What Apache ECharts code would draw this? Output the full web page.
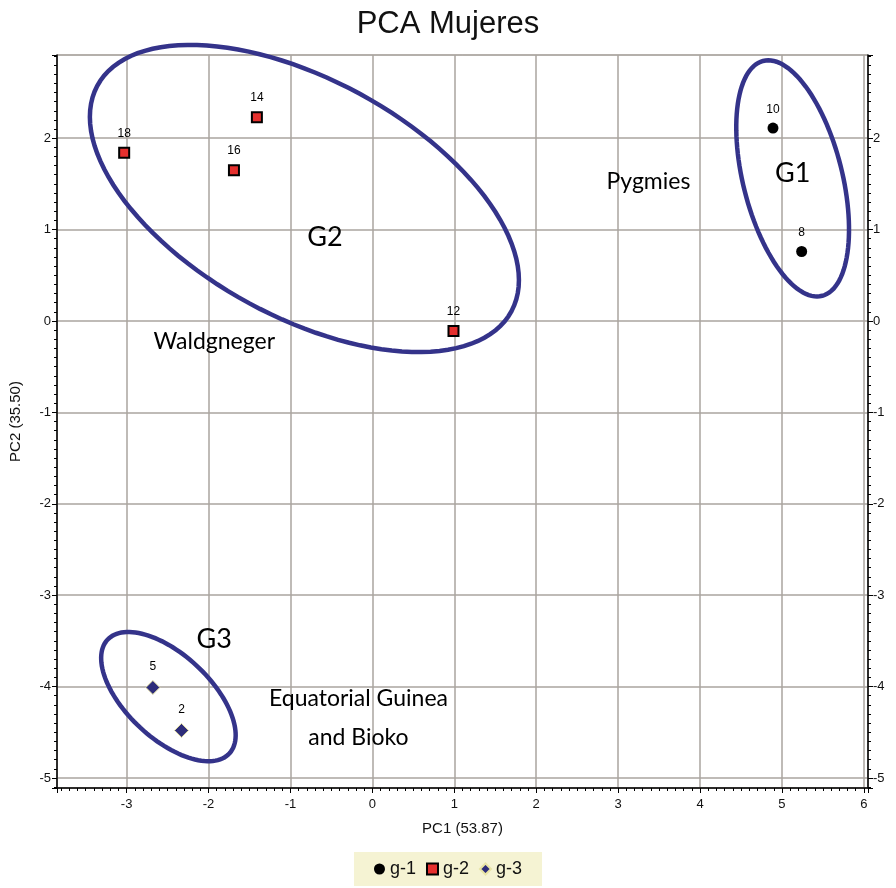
<!DOCTYPE html>
<html>
<head>
<meta charset="utf-8">
<script src="https://cdn.jsdelivr.net/npm/echarts@6/dist/echarts.min.js"></script>
<style>
  html, body { margin: 0; padding: 0; background: #fff; }
  #chart { width: 896px; height: 888px; }
</style>
</head>
<body>
<div id="chart"></div>
<script>
// group g-1 (black circles)
const g1X = [4.89, 5.24];
const g1Y = [2.11, 0.76];
const g1Ids = ['10', '8'];

// group g-2 (red squares)
const g2X = [-3.03, -1.41, -1.69, 0.99];
const g2Y = [1.84, 2.23, 1.65, -0.11];
const g2Ids = ['18', '14', '16', '12'];

// group g-3 (blue diamonds)
const g3X = [-2.68, -2.33];
const g3Y = [-4.01, -4.48];
const g3Ids = ['5', '2'];

// ellipses: centre and two semi-axis vectors, in data units
const ellipseCenters = [[5.13, 1.56], [-0.83, 1.34], [-2.49, -4.11]];
const ellipseMajor = [[0.361, -1.285], [2.53, -1.23], [0.746, -0.620]];
const ellipseMinor = [[0.586, 0.136], [0.676, 1.145], [0.343, 0.340]];

// annotations
const groupNames = ['G1', 'G2', 'G3'];
const groupPos = [[5.13, 1.62], [-0.58, 0.92], [-1.93, -3.48]];
const regionNames = ['Pygmies', 'Waldgneger', 'Equatorial Guinea', 'and Bioko'];
const regionPos = [[3.37, 1.53], [-1.93, -0.23], [-0.17, -4.13], [-0.17, -4.56]];

const xMin = -3.85, xMax = 6.05;
const yMin = -5.11, yMax = 2.91;

const chart = echarts.init(document.getElementById('chart'));

const toPoints = (xs, ys, ids) => xs.map((x, i) => ({ value: [x, ys[i]], name: ids[i] }));

// only integer ticks get a label (edges of the fixed range stay blank)
const intOnly = v => (Math.abs(v - Math.round(v)) < 1e-6 ? String(Math.round(v)) : '');

const pointLabel = {
  show: true,
  position: 'top',
  distance: 7,
  formatter: '{b}',
  color: '#000',
  fontSize: 12,
  fontFamily: 'Liberation Sans, Arial, sans-serif'
};

const yAxisBase = {
  type: 'value',
  min: yMin,
  max: yMax,
  splitNumber: 8,
  axisLine: { show: true, onZero: false, lineStyle: { color: '#000', width: 1.5 } },
  axisTick: { show: true, length: 5, lineStyle: { color: '#000' } },
  minorTick: { show: true, splitNumber: 10, length: 3, lineStyle: { color: '#000' } },
  axisLabel: {
    formatter: intOnly,
    color: '#111',
    fontSize: 13,
    fontFamily: 'Liberation Sans, Arial, sans-serif',
    margin: 6
  }
};

const option = {
  backgroundColor: '#fff',
  animation: false,
  title: {
    text: 'PCA Mujeres',
    left: 'center',
    top: 4,
    textStyle: {
      fontSize: 31,
      fontWeight: 'normal',
      color: '#111',
      fontFamily: 'Liberation Sans, Arial, sans-serif'
    }
  },
  legend: {
    top: 852,
    left: 'center',
    data: ['g-1', 'g-2', 'g-3'],
    backgroundColor: '#f5f3d3',
    padding: [8, 20],
    itemWidth: 11,
    itemHeight: 11,
    itemGap: 10,
    textStyle: { fontSize: 18, color: '#111', fontFamily: 'Liberation Sans, Arial, sans-serif' }
  },
  grid: {
    left: 52,
    right: 28,
    top: 55,
    bottom: 100,
    show: true,
    borderColor: '#aaa49f',
    borderWidth: 1
  },
  xAxis: {
    type: 'value',
    min: xMin,
    max: xMax,
    splitNumber: 10,
    name: 'PC1 (53.87)',
    nameLocation: 'middle',
    nameGap: 33,
    nameTextStyle: { fontSize: 15, color: '#111', fontFamily: 'Liberation Sans, Arial, sans-serif' },
    axisLine: { show: true, onZero: false, lineStyle: { color: '#000', width: 1.5 } },
    axisTick: { show: true, length: 5, lineStyle: { color: '#000' } },
    minorTick: { show: true, splitNumber: 10, length: 3, lineStyle: { color: '#000' } },
    splitLine: { show: true, lineStyle: { color: '#aaa49f', width: 1.5 } },
    axisLabel: {
      formatter: intOnly,
      color: '#111',
      fontSize: 13,
      fontFamily: 'Liberation Sans, Arial, sans-serif',
      margin: 10
    }
  },
  yAxis: [
    Object.assign({}, yAxisBase, {
      position: 'left',
      name: 'PC2 (35.50)',
      nameLocation: 'middle',
      nameGap: 34,
      nameRotate: 90,
      nameTextStyle: { fontSize: 15, color: '#111', fontFamily: 'Liberation Sans, Arial, sans-serif' },
      splitLine: { show: true, lineStyle: { color: '#aaa49f', width: 1.5 } }
    }),
    Object.assign({}, yAxisBase, {
      position: 'right',
      splitLine: { show: false },
      axisLabel: Object.assign({}, yAxisBase.axisLabel, { margin: 5 })
    })
  ],
  series: [
    {
      name: 'ellipses',
      type: 'custom',
      silent: true,
      z: 3,
      data: ellipseCenters.map((c, i) => [c[0], c[1], i]),
      encode: { x: 0, y: 1 },
      renderItem: (params, api) => {
        const i = api.value(2);
        const c = ellipseCenters[i], u = ellipseMajor[i], v = ellipseMinor[i];
        const pts = [];
        for (let k = 0; k < 120; k++) {
          const t = (k / 120) * Math.PI * 2;
          pts.push(api.coord([
            c[0] + u[0] * Math.cos(t) + v[0] * Math.sin(t),
            c[1] + u[1] * Math.cos(t) + v[1] * Math.sin(t)
          ]));
        }
        return {
          type: 'polygon',
          shape: { points: pts },
          style: { fill: 'none', stroke: '#34338a', lineWidth: 4.5 }
        };
      }
    },
    {
      name: 'g-1',
      type: 'scatter',
      z: 5,
      symbol: 'circle',
      symbolSize: 11,
      itemStyle: { color: '#000', opacity: 1 },
      label: pointLabel,
      data: toPoints(g1X, g1Y, g1Ids)
    },
    {
      name: 'g-2',
      type: 'scatter',
      z: 5,
      symbol: 'rect',
      symbolSize: 10,
      itemStyle: { color: '#e5302e', borderColor: '#000', borderWidth: 2, opacity: 1 },
      label: pointLabel,
      data: toPoints(g2X, g2Y, g2Ids)
    },
    {
      name: 'g-3',
      type: 'scatter',
      z: 5,
      symbol: 'diamond',
      symbolSize: 14,
      itemStyle: { color: '#2e2d7a', borderColor: '#e8e4a6', borderWidth: 1, opacity: 1 },
      label: pointLabel,
      data: toPoints(g3X, g3Y, g3Ids)
    },
    {
      name: 'groups',
      type: 'scatter',
      silent: true,
      symbolSize: 0,
      z: 4,
      itemStyle: { opacity: 1 },
      label: {
        show: true,
        position: 'inside',
        formatter: '{b}',
        color: '#000',
        fontSize: 27,
        fontFamily: 'Lato, Open Sans, sans-serif'
      },
      data: groupPos.map((p, i) => ({ value: p, name: groupNames[i] }))
    },
    {
      name: 'regions',
      type: 'scatter',
      silent: true,
      symbolSize: 0,
      z: 4,
      itemStyle: { opacity: 1 },
      label: {
        show: true,
        position: 'inside',
        formatter: '{b}',
        color: '#000',
        fontSize: 23,
        fontFamily: 'Lato, Open Sans, sans-serif'
      },
      data: regionPos.map((p, i) => ({ value: p, name: regionNames[i] }))
    }
  ]
};

chart.setOption(option);
</script>
</body>
</html>
